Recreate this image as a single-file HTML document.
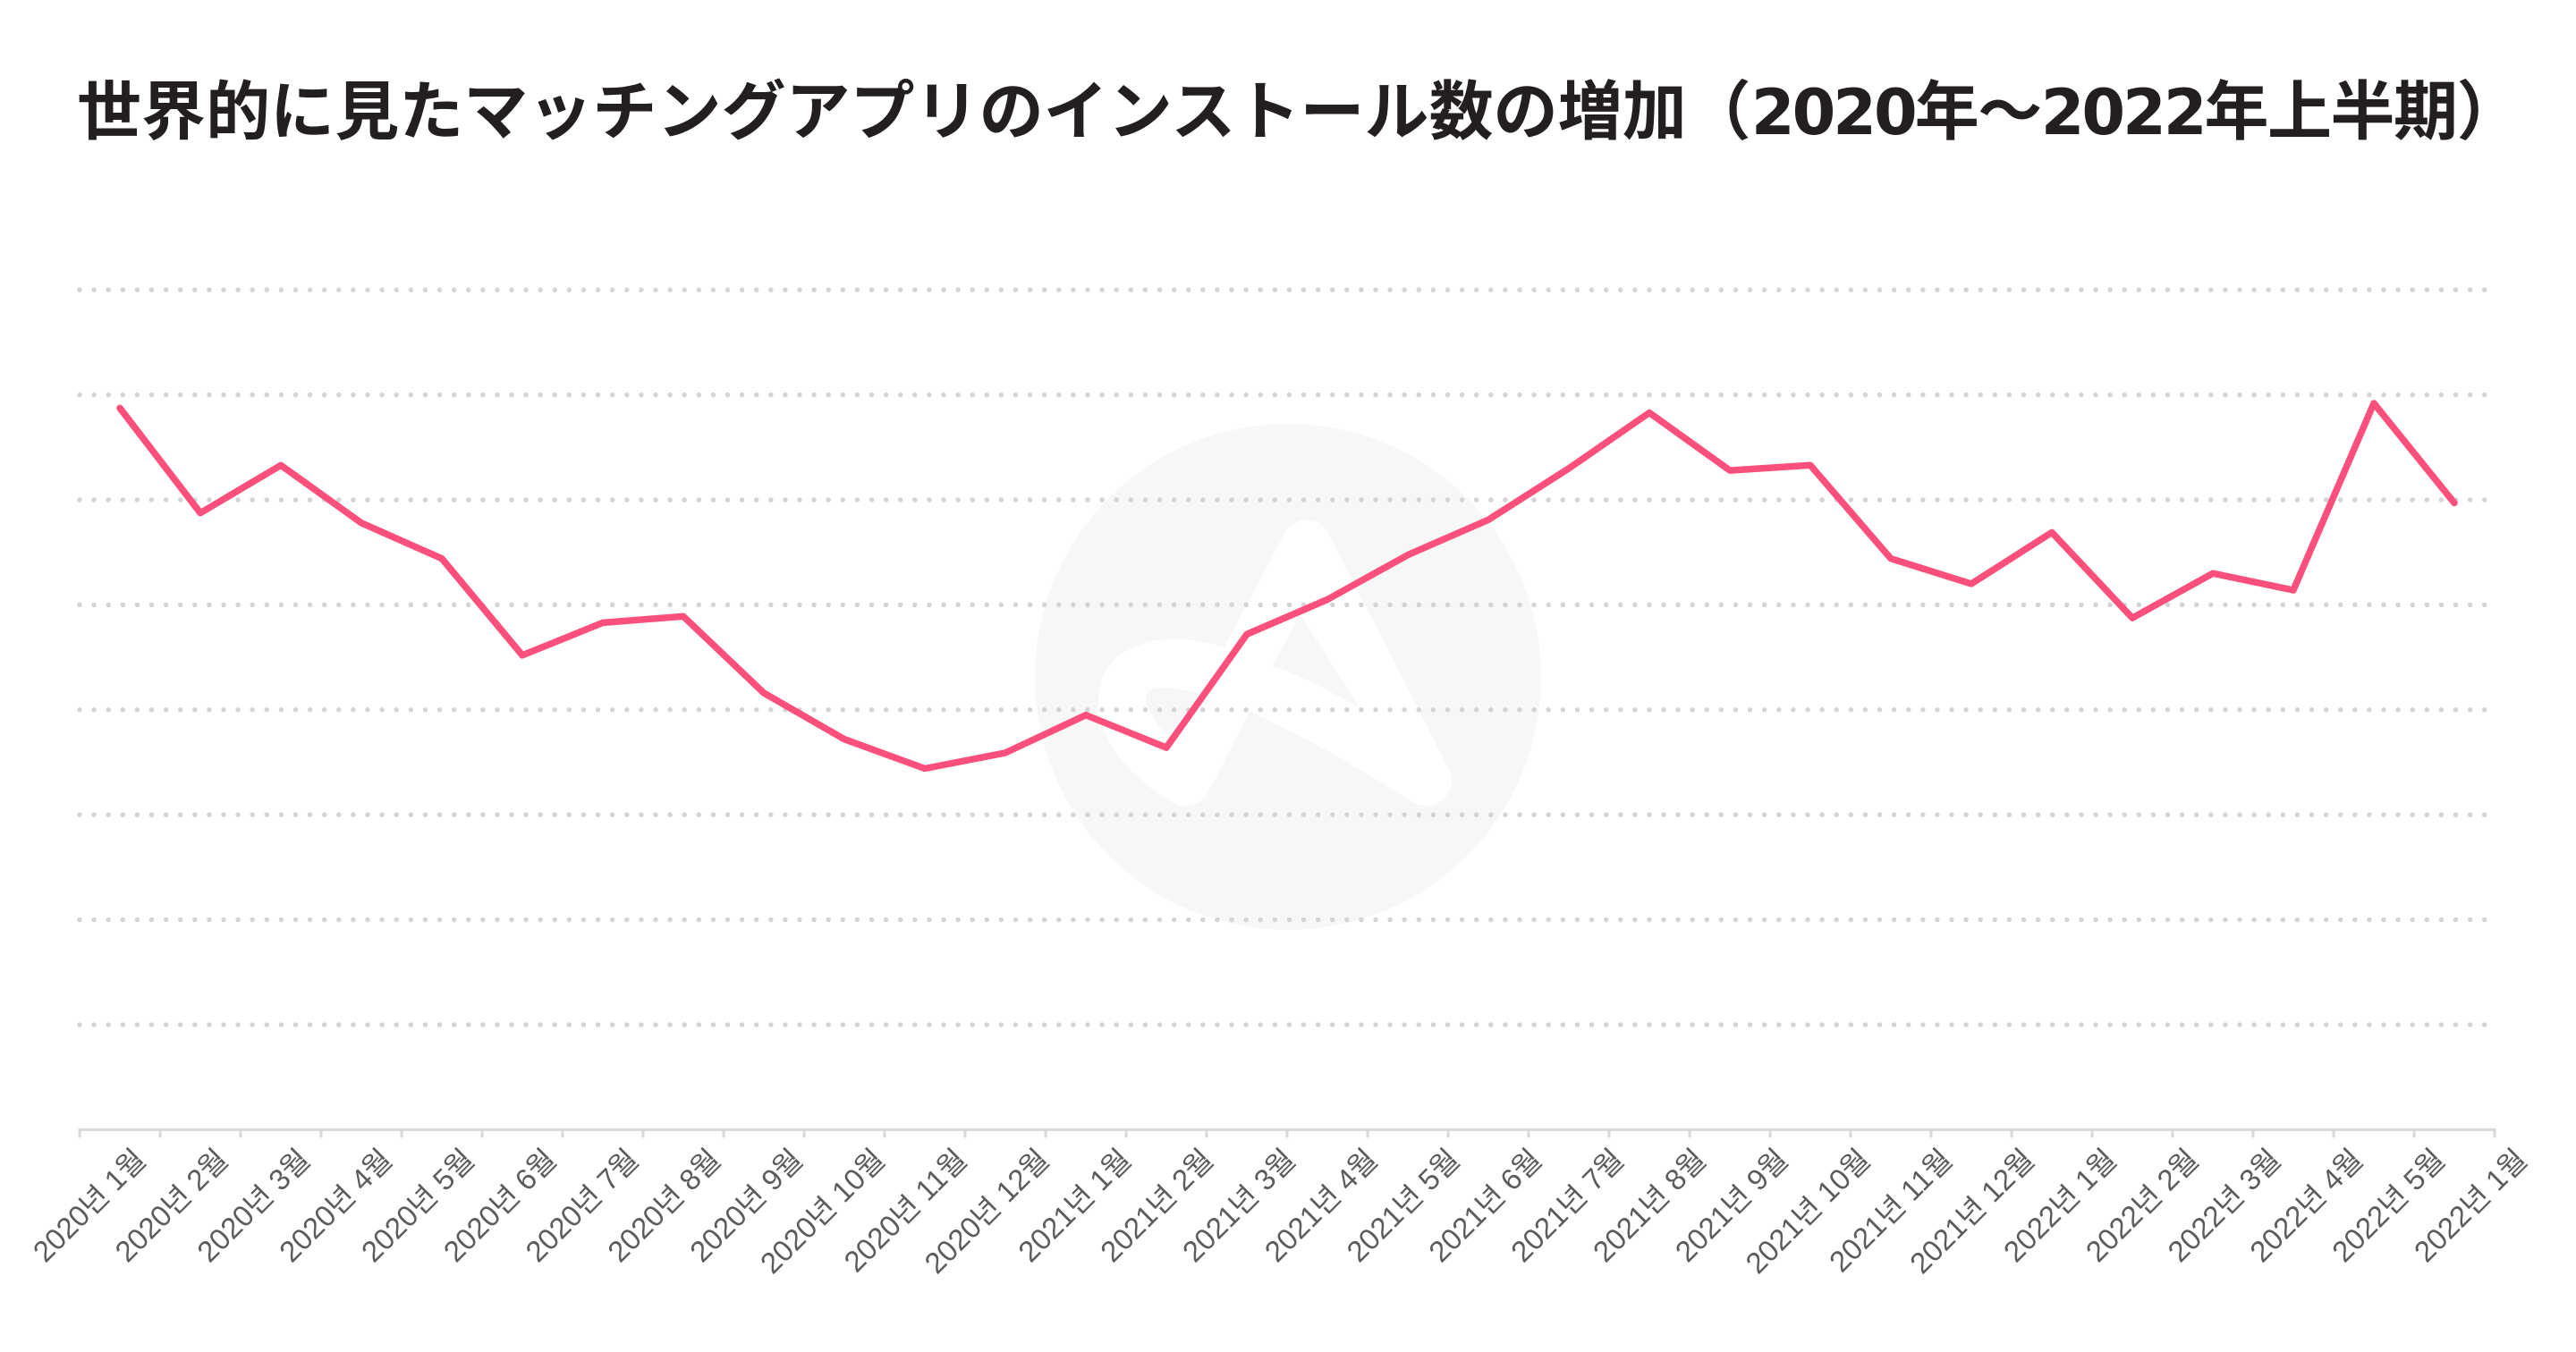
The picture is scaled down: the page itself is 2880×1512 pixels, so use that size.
<!DOCTYPE html>
<html lang="ja">
<head>
<meta charset="utf-8">
<title>世界的に見たマッチングアプリのインストール数の増加</title>
<style>
html,body{margin:0;padding:0;background:#fff;width:2880px;height:1512px;overflow:hidden}
svg{display:block}
text{font-family:"Liberation Sans","Noto Sans CJK KR","Noto Sans CJK JP",sans-serif}
#chart-title{font-family:"Liberation Sans","Noto Sans CJK JP",sans-serif;font-weight:700;font-size:72px;fill:#231f20;letter-spacing:0.05px}
#chart-title .digits{font-family:"DejaVu Sans",sans-serif;font-size:70px;letter-spacing:-3px}
#chart-title .tail{letter-spacing:-1.5px}
.tick-label{font-size:33px;fill:#5c5c5c}
</style>
</head>
<body>
<svg id="chart" xmlns="http://www.w3.org/2000/svg" width="2880" height="1512" viewBox="0 0 2880 1512">
  <rect x="0" y="0" width="2880" height="1512" fill="#ffffff"/>
  <text id="chart-title" x="86" y="150">世界的に見たマッチングアプリのインストール数の増加（<tspan class="digits">2020</tspan><tspan class="tail">年〜</tspan><tspan class="digits">2022</tspan><tspan class="tail">年上半期）</tspan></text>
  <g>
    <circle cx="1440" cy="757" r="283" fill="#f7f7f7"/>
    <g transform="translate(1100 450) scale(0.43365 0.39526)">
      <path fill="#ffffff" d="M775,370 C800,320 865,320 888,370 L1200,1040 C1222,1100 1175,1160 1110,1135 C960,1030 830,945 685,875 L580,1100 C560,1140 520,1150 490,1135 C380,1065 295,960 295,840 C295,700 440,630 620,693 Z"/>
      <path fill="#f7f7f7" d="M745,745 L815,600 L970,865 C890,815 815,772 745,745 Z"/>
      <path fill="#f7f7f7" d="M555,825 C500,808 420,790 418,835 C420,870 450,920 475,945 Z"/>
    </g>
  </g>
  <g id="grid"></g>
  <g id="axis"></g>
  <g id="labels"></g>
  <g id="series"></g>
</svg>
<script>
const categories = [
  "2020년 1월","2020년 2월","2020년 3월","2020년 4월","2020년 5월","2020년 6월",
  "2020년 7월","2020년 8월","2020년 9월","2020년 10월","2020년 11월","2020년 12월",
  "2021년 1월","2021년 2월","2021년 3월","2021년 4월","2021년 5월","2021년 6월",
  "2021년 7월","2021년 8월","2021년 9월","2021년 10월","2021년 11월","2021년 12월",
  "2022년 1월","2022년 2월","2022년 3월","2022년 4월","2022년 5월","2022년 1월"
];
const installIndex = [
  68.75,58.75,63.3,57.8,54.4,45.2,48.3,48.9,41.6,37.2,34.4,35.9,
  39.5,36.4,47.2,50.5,54.75,58.1,63,68.3,62.8,63.3,54.4,52,
  56.9,48.75,53,51.4,69.2,59.7
];
const gridValues = [10,20,30,40,50,60,70,80];

const NS = "http://www.w3.org/2000/svg";
const plotLeft = 89, plotRight = 2789, plotBottom = 1263.4, unitHeight = 11.74;
const bandWidth = (plotRight - plotLeft) / categories.length;
function tickX(i){ return plotLeft + i * bandWidth; }
function xScale(i){ return tickX(i) + bandWidth / 2; }
function yScale(v){ return plotBottom - v * unitHeight; }
function labelEndX(i){ return tickX(i) + 76 + 1.8 * i; }

const gridGroup = document.getElementById("grid");
gridValues.forEach(function(v){
  const l = document.createElementNS(NS, "line");
  
  
  l.setAttribute("x1", plotLeft);
  l.setAttribute("x2", 2782);
  l.setAttribute("y1", yScale(v));
  l.setAttribute("y2", yScale(v));
  l.setAttribute("stroke", "#d4d4d8");
  l.setAttribute("stroke-width", "5.5");
  l.setAttribute("stroke-linecap", "round");
  l.setAttribute("stroke-dasharray", "0 16.1");
  gridGroup.appendChild(l);
});

const axisGroup = document.getElementById("axis");
const axisLine = document.createElementNS(NS, "line");


axisLine.setAttribute("x1", plotLeft - 1.5);
axisLine.setAttribute("x2", plotRight + 1.5);
axisLine.setAttribute("y1", plotBottom);
axisLine.setAttribute("y2", plotBottom);
axisLine.setAttribute("stroke", "#d9d9d9");
axisLine.setAttribute("stroke-width", "3");
axisGroup.appendChild(axisLine);
for (let i = 0; i <= categories.length; i++) {
  const t = document.createElementNS(NS, "line");
  
  
  t.setAttribute("x1", tickX(i));
  t.setAttribute("x2", tickX(i));
  t.setAttribute("y1", plotBottom);
  t.setAttribute("y2", plotBottom + 9);
  t.setAttribute("stroke", "#d9d9d9");
  t.setAttribute("stroke-width", "3");
  axisGroup.appendChild(t);
}

const labelGroup = document.getElementById("labels");
categories.forEach(function(c, i){
  const t = document.createElementNS(NS, "text");
  
  
  const x = labelEndX(i), y = 1299;
  t.setAttribute("class", "tick-label");
  t.setAttribute("x", x);
  t.setAttribute("y", y);
  t.setAttribute("text-anchor", "end");
  t.setAttribute("transform", "rotate(-45 " + x + " " + y + ")");
  t.textContent = c;
  labelGroup.appendChild(t);
});

const seriesGroup = document.getElementById("series");
const path = document.createElementNS(NS, "path");


path.setAttribute("d", installIndex.map(function(v, i){
  return (i ? "L" : "M") + xScale(i).toFixed(1) + " " + yScale(v).toFixed(1);
}).join(" "));
path.setAttribute("fill", "none");
path.setAttribute("stroke", "#fb4f7c");
path.setAttribute("stroke-width", "7.5");
path.setAttribute("stroke-linejoin", "round");
path.setAttribute("stroke-linecap", "round");
seriesGroup.appendChild(path);
</script>
</body>
</html>
